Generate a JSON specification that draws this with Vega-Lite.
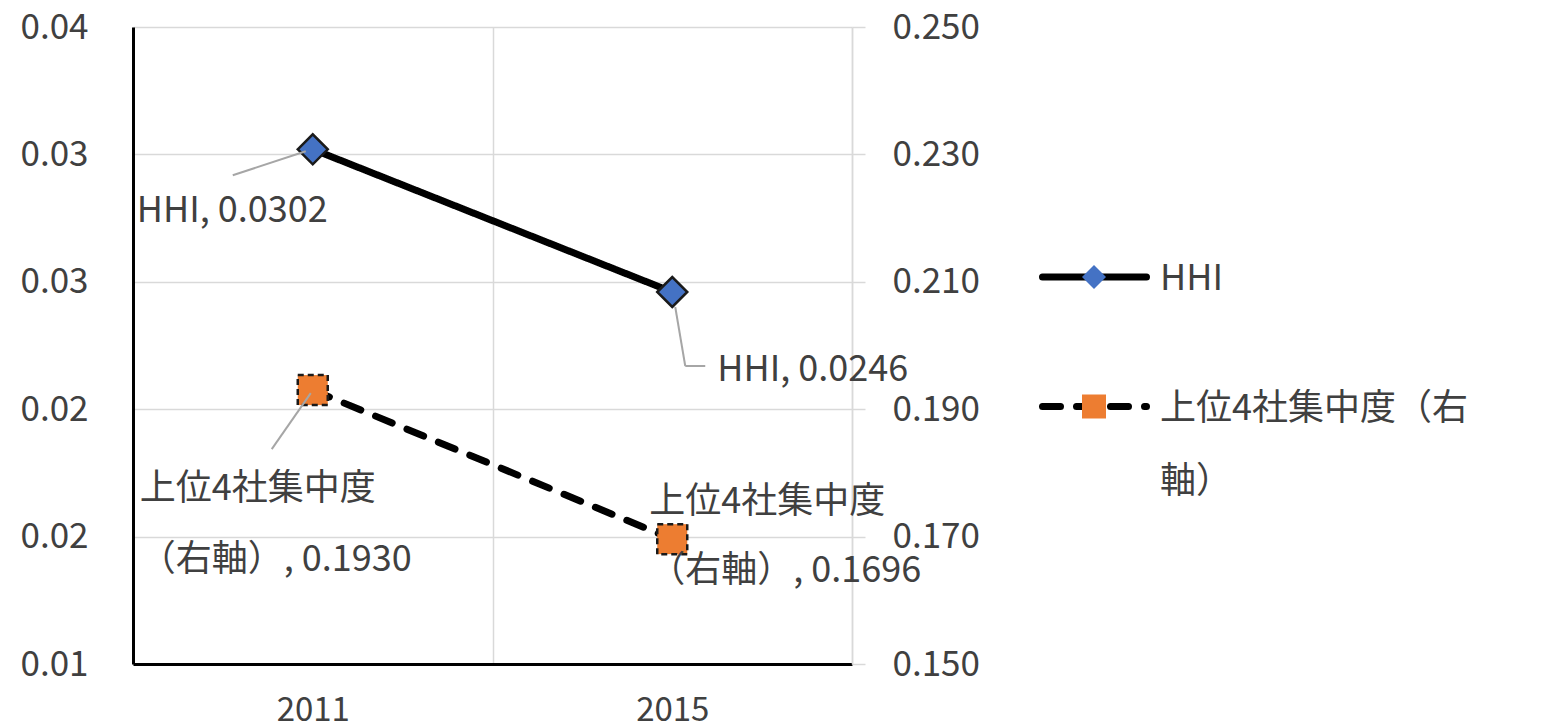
{
  "$schema": "https://vega.github.io/schema/vega-lite/v6.json",
  "width": 719,
  "height": 637,
  "autosize": {"type": "none"},
  "padding": {"left": 133, "top": 27, "right": 704, "bottom": 62},
  "background": "#ffffff",
  "config": {
    "view": {"stroke": null},
    "font": "Noto Sans CJK JP"
  },
  "data": {
    "values": [
      {"year": "2011", "series": "HHI", "value": 0.0302},
      {"year": "2015", "series": "HHI", "value": 0.0246},
      {"year": "2011", "series": "上位4社集中度（右軸）", "value": 0.1930},
      {"year": "2015", "series": "上位4社集中度（右軸）", "value": 0.1696}
    ]
  },
  "encoding": {
    "x": {
      "field": "year",
      "type": "ordinal",
      "title": null,
      "scale": {"type": "band", "paddingInner": 0, "paddingOuter": 0},
      "axis": {
        "grid": true,
        "gridColor": "#D9D9D9",
        "gridWidth": 1.5,
        "tickBand": "extent",
        "ticks": false,
        "tickSize": 0,
        "domainColor": "#000000",
        "domainWidth": 3,
        "labelAngle": 0,
        "labelFont": "Noto Sans CJK JP",
        "labelFontSize": 33,
        "labelColor": "#404040",
        "labelPadding": 30
      }
    }
  },
  "layer": [
    {
      "transform": [{"filter": "datum.series === 'HHI'"}],
      "encoding": {
        "y": {
          "field": "value",
          "type": "quantitative",
          "title": null,
          "scale": {"domain": [0.01, 0.035], "nice": false, "zero": false},
          "axis": {
            "orient": "left",
            "values": [0.01, 0.015, 0.02, 0.025, 0.03, 0.035],
            "labelExpr": "format(datum.value + 1e-9, '.2f')",
            "grid": true,
            "gridColor": "#D9D9D9",
            "gridWidth": 1.5,
            "ticks": false,
            "tickSize": 0,
            "domainColor": "#000000",
            "domainWidth": 3,
            "labelPadding": 45,
            "labelFont": "Noto Sans CJK JP",
            "labelFontSize": 35,
            "labelColor": "#404040"
          }
        }
      },
      "layer": [
        {
          "mark": {"type": "line", "strokeWidth": 7, "strokeCap": "round", "strokeJoin": "round"},
          "encoding": {
            "color": {
              "field": "series", "type": "nominal",
              "scale": {"range": ["#000000", "#000000"]},
              "legend": {
                "title": null, "orient": "none", "legendX": 906, "legendY": 194.5, "padding": 0,
                "symbolType": "stroke", "symbolSize": 10816, "symbolStrokeWidth": 7, "symbolOffset": 0,
                "labelFont": "Noto Sans CJK JP", "labelFontSize": 36, "labelColor": "#404040",
                "labelBaseline": "top", "labelLimit": 600, "labelOffset": 10, "rowPadding": 53.5,
                "labelExpr": "length(datum.label) > 9 ? [substring(datum.label, 0, 9), substring(datum.label, 9)] : datum.label",
                "encode": {
                  "symbols": {"update": {"strokeCap": {"value": "round"}}},
                  "labels": {"update": {"dy": {"value": -15}, "lineHeight": {"value": 73}}}
                }
              }
            },
            "strokeDash": {
              "field": "series", "type": "nominal",
              "scale": {"range": [[1, 0], [18, 16]]},
              "legend": {
                "title": null, "orient": "none", "legendX": 906, "legendY": 194.5, "padding": 0,
                "symbolType": "stroke", "symbolSize": 10816, "symbolStrokeWidth": 7, "symbolOffset": 0,
                "labelFont": "Noto Sans CJK JP", "labelFontSize": 36, "labelColor": "#404040",
                "labelBaseline": "top", "labelLimit": 600, "labelOffset": 10, "rowPadding": 53.5,
                "labelExpr": "length(datum.label) > 9 ? [substring(datum.label, 0, 9), substring(datum.label, 9)] : datum.label",
                "encode": {
                  "symbols": {"update": {"strokeCap": {"value": "round"}}},
                  "labels": {"update": {"dy": {"value": -15}, "lineHeight": {"value": 73}}}
                }
              }
            }
          }
        },
        {
          "mark": {"type": "point", "filled": true, "size": 900, "opacity": 1, "stroke": "#1a1a1a", "strokeWidth": 2.5},
          "encoding": {
            "fill": {
              "field": "series", "type": "nominal",
              "scale": {"domain": ["HHI", "上位4社集中度（右軸）"], "range": ["#4472C4", "#ED7D31"]},
              "legend": {
                "title": null, "orient": "none", "legendX": 947.5, "legendY": 236.5, "padding": 0,
                "symbolSize": 576, "symbolStrokeWidth": 2.5, "symbolStrokeColor": "#1a1a1a", "symbolOpacity": 1, "symbolOffset": 0,
                "labelFontSize": 1, "labelLimit": 600, "labelOffset": 4, "rowPadding": 94.5,
                "labelExpr": "''"
              }
            },
            "shape": {
              "field": "series", "type": "nominal",
              "scale": {"domain": ["HHI", "上位4社集中度（右軸）"], "range": ["diamond", "square"]},
              "legend": {
                "title": null, "orient": "none", "legendX": 947.5, "legendY": 236.5, "padding": 0,
                "symbolSize": 576, "symbolStrokeWidth": 2.5, "symbolStrokeColor": "#1a1a1a", "symbolOpacity": 1, "symbolOffset": 0,
                "labelFontSize": 1, "labelLimit": 600, "labelOffset": 4, "rowPadding": 94.5,
                "labelExpr": "''"
              }
            }
          }
        },
        {
          "transform": [{"filter": "datum.year === '2011'"}],
          "mark": {"type": "rule", "color": "#A6A6A6", "strokeWidth": 2, "xOffset": -80, "yOffset": 26, "x2Offset": -7, "y2Offset": 2},
          "encoding": {"x2": {"field": "year"}, "y2": {"field": "value"}}
        },
        {
          "transform": [{"filter": "datum.year === '2015'"}],
          "mark": {"type": "rule", "color": "#A6A6A6", "strokeWidth": 2, "xOffset": 3, "yOffset": 15, "x2Offset": 13, "y2Offset": 74},
          "encoding": {"x2": {"field": "year"}, "y2": {"field": "value"}}
        },
        {
          "transform": [{"filter": "datum.year === '2015'"}],
          "mark": {"type": "rule", "color": "#A6A6A6", "strokeWidth": 2, "xOffset": 13, "yOffset": 74, "x2Offset": 33, "y2Offset": 74},
          "encoding": {"x2": {"field": "year"}, "y2": {"field": "value"}}
        },
        {
          "transform": [
            {"filter": "datum.year === '2011'"},
            {"calculate": "datum.series + ', ' + format(datum.value, '.4f')", "as": "label"}
          ],
          "mark": {"type": "text", "align": "left", "baseline": "middle", "dx": -176, "dy": 62, "font": "Noto Sans CJK JP", "fontSize": 36, "color": "#404040"},
          "encoding": {"text": {"field": "label"}}
        },
        {
          "transform": [
            {"filter": "datum.year === '2015'"},
            {"calculate": "datum.series + ', ' + format(datum.value, '.4f')", "as": "label"}
          ],
          "mark": {"type": "text", "align": "left", "baseline": "middle", "dx": 45, "dy": 78, "font": "Noto Sans CJK JP", "fontSize": 36, "color": "#404040"},
          "encoding": {"text": {"field": "label"}}
        }
      ]
    },
    {
      "transform": [{"filter": "datum.series !== 'HHI'"}],
      "encoding": {
        "y": {
          "field": "value",
          "type": "quantitative",
          "title": null,
          "scale": {"domain": [0.15, 0.25], "nice": false, "zero": false},
          "axis": {
            "orient": "right",
            "values": [0.15, 0.17, 0.19, 0.21, 0.23, 0.25],
            "format": ".3f",
            "grid": false,
            "ticks": true,
            "tickSize": 13,
            "tickColor": "#D9D9D9",
            "tickWidth": 1.5,
            "domainColor": "#D9D9D9",
            "domainWidth": 1.5,
            "labelPadding": 27,
            "labelFont": "Noto Sans CJK JP",
            "labelFontSize": 35,
            "labelColor": "#404040"
          }
        }
      },
      "layer": [
        {
          "mark": {"type": "line", "strokeWidth": 7, "strokeCap": "round", "strokeJoin": "round"},
          "encoding": {
            "color": {"field": "series", "type": "nominal"},
            "strokeDash": {"field": "series", "type": "nominal"}
          }
        },
        {
          "mark": {"type": "point", "filled": true, "size": 900, "opacity": 1, "stroke": "#1a1a1a", "strokeWidth": 2.5, "strokeDash": [6, 4]},
          "encoding": {
            "fill": {"field": "series", "type": "nominal", "scale": {"domain": ["HHI", "上位4社集中度（右軸）"]}},
            "shape": {"field": "series", "type": "nominal", "scale": {"domain": ["HHI", "上位4社集中度（右軸）"]}}
          }
        },
        {
          "transform": [{"filter": "datum.year === '2011'"}],
          "mark": {"type": "rule", "color": "#A6A6A6", "strokeWidth": 2, "xOffset": -2, "yOffset": 3, "x2Offset": -41, "y2Offset": 59},
          "encoding": {"x2": {"field": "year"}, "y2": {"field": "value"}}
        },
        {
          "transform": [
            {"filter": "datum.year === '2011'"},
            {"calculate": "replace(datum.series, '（', '\\n（') + ', ' + format(datum.value, '.4f')", "as": "label"}
          ],
          "mark": {"type": "text", "align": "left", "baseline": "top", "dx": -173, "dy": 82, "lineBreak": "\n", "lineHeight": 71, "font": "Noto Sans CJK JP", "fontSize": 36, "color": "#404040"},
          "encoding": {"text": {"field": "label"}}
        },
        {
          "transform": [
            {"filter": "datum.year === '2015'"},
            {"calculate": "replace(datum.series, '（', '\\n（') + ', ' + format(datum.value, '.4f')", "as": "label"}
          ],
          "mark": {"type": "text", "align": "left", "baseline": "top", "dx": -23, "dy": -54, "lineBreak": "\n", "lineHeight": 69, "font": "Noto Sans CJK JP", "fontSize": 36, "color": "#404040"},
          "encoding": {"text": {"field": "label"}}
        }
      ]
    }
  ],
  "resolve": {"scale": {"y": "independent"}}
}
